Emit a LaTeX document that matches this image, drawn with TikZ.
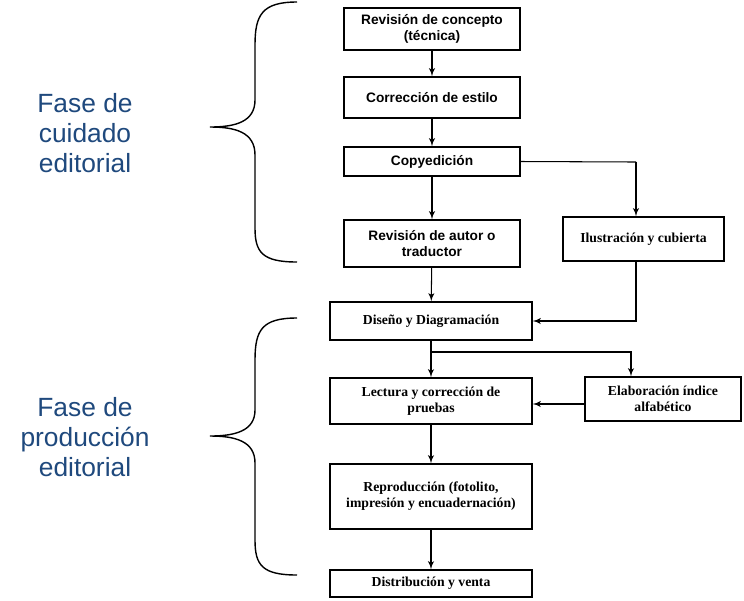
\documentclass[tikz,border=0pt]{standalone}
\usepackage{fontspec}
\setmainfont{Liberation Serif}
\setsansfont{Liberation Sans}
\usetikzlibrary{arrows}
\definecolor{fasecolor}{RGB}{31,73,125}
\tikzstyle{line} = [draw, semithick, -latex']
\tikzstyle{paso} = [draw, thick, align=center, inner sep=1pt, font=\sffamily\bfseries\fontsize{7.8}{9}\selectfont]
\tikzstyle{pasoserif} = [paso, font=\bfseries\fontsize{7.8}{9}\selectfont]

\begin{document}
\begin{tikzpicture}[x=0.02cm,y=-0.02cm]
\useasboundingbox (0,0) rectangle (744,600);
% cuidado editorial
\node[paso, minimum width=3.52cm, minimum height=0.84cm] (concepto) at (432,29) {Revisión de concepto\\(técnica)};
\node[paso, minimum width=3.52cm, minimum height=0.82cm] (estilo) at (432,97.5) {Corrección de estilo};
\node[paso, minimum width=3.52cm, minimum height=0.58cm] (copy) at (432,161.5) {Copyedición};
\node[paso, minimum width=3.52cm, minimum height=0.94cm] (autor) at (432,243.5) {Revisión de autor o\\traductor};
\node[pasoserif, minimum width=3.22cm, minimum height=0.88cm] (ilustra) at (643.5,239) {Ilustración y cubierta};
% produccion editorial
\node[pasoserif, minimum width=4.04cm, minimum height=0.76cm] (diseno) at (431,321) {Diseño y Diagramación};
\node[pasoserif, minimum width=4.04cm, minimum height=0.92cm] (lectura) at (431,401) {Lectura y corrección de\\pruebas};
\node[pasoserif, minimum width=3.12cm, minimum height=0.88cm] (indice) at (663,399) {Elaboración índice\\alfabético};
\node[pasoserif, minimum width=4.04cm, minimum height=1.30cm] (repro) at (431,496.5) {Reproducción (fotolito,\\impresión y encuadernación)};
\node[pasoserif, minimum width=4.04cm, minimum height=0.54cm] (venta) at (431,583.5) {Distribución y venta};
% conectores
\path[line] (concepto) -- (estilo);
\path[line] (estilo) -- (copy);
\path[line] (copy) -- (autor);
\coordinate (esquina) at (636,162);
\draw[semithick] (copy.east) -- (esquina);
\path[line] (esquina) -- (esquina |- ilustra.north);
\path[line] (autor) -- (diseno);
\coordinate (bajada) at (636,261);
\path[line] (bajada) |- (diseno.east);
\path[line] (diseno) -- (lectura);
\coordinate (rama) at (431,352);
\coordinate (ramafin) at (631,352);
\draw[semithick] (diseno.south) -- (rama);
\path[line] (rama) -- (ramafin) -- (ramafin |- indice.north);
\coordinate (entrada) at (585,404);
\path[line] (entrada) -- (entrada -| lectura.east);
\path[line] (lectura) -- (repro);
\path[line] (repro) -- (venta);
% llaves
\draw[thick] (297,2) .. controls (262,2) and (255,15) .. (255,45) -- (255,100)
  .. controls (255,122) and (235,127) .. (210,127)
  .. controls (235,127) and (255,132) .. (255,155) -- (255,228)
  .. controls (255,252) and (262,262) .. (297,262);
\draw[thick] (297,318) .. controls (262,318) and (255,330) .. (255,360) -- (255,410)
  .. controls (255,431) and (235,436) .. (210,436)
  .. controls (235,436) and (255,441) .. (255,463) -- (255,540)
  .. controls (255,565) and (262,575) .. (297,575);
\node[align=center, text=fasecolor, font=\sffamily\fontsize{15}{17}\selectfont] (cuidado) at (85,133) {Fase de\\cuidado\\editorial};
\node[align=center, text=fasecolor, font=\sffamily\fontsize{15}{17}\selectfont] (produccion) at (85,437) {Fase de\\producción\\editorial};
\end{tikzpicture}
\end{document}
